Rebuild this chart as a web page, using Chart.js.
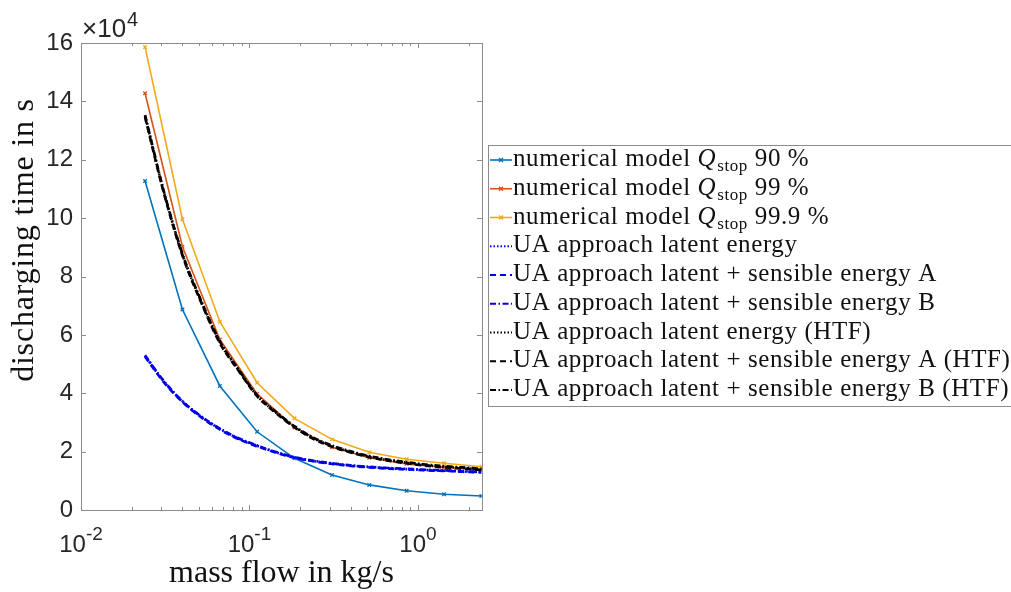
<!DOCTYPE html>
<html>
<head>
<meta charset="utf-8">
<script src="https://cdn.jsdelivr.net/npm/chart.js@4"></script>
<style>
  html, body { margin: 0; padding: 0; background: #fff; }
</style>
</head>
<body>
<canvas id="chart" width="1011" height="592"></canvas>
<script>
// mass flow in kg/s (numerical model runs)
const massFlow = [0.024, 0.04, 0.0667, 0.111, 0.185, 0.309, 0.514, 0.857, 1.43, 2.38];
// discharging time in s
const q90  = [112700, 68700, 42500, 26800, 17700, 12000, 8600, 6600, 5400, 4800];
const q99  = [142800, 90200, 58400, 39800, 28300, 21500, 17900, 15800, 14600, 13700];
const q999 = [158600, 99600, 64500, 43600, 31400, 24200, 19800, 17400, 16000, 14800];

// UA approach, finer mass flow grid
const uaFlow = [0.024, 0.031, 0.04, 0.0516, 0.0667, 0.086, 0.111, 0.143, 0.185, 0.239,
                0.309, 0.399, 0.514, 0.664, 0.857, 1.107, 1.43, 1.84, 2.38];
const uaLatent = [52800, 44000, 37200, 32000, 27800, 24500, 22000, 19800, 18000, 16800,
                  15900, 15200, 14700, 14300, 14000, 13700, 13500, 13200, 13000];
const uaSensA  = [52500, 43800, 37000, 31800, 27600, 24300, 21800, 19700, 17900, 16700,
                  15800, 15100, 14600, 14200, 13900, 13600, 13400, 13100, 12900];
const uaSensB  = [53000, 44200, 37300, 32100, 27900, 24600, 22100, 19900, 18100, 16900,
                  16000, 15300, 14800, 14400, 14100, 13800, 13600, 13300, 13100];
const htfLatent = [135000, 109000, 87500, 71500, 57500, 48000, 39200, 33500, 28500, 24600,
                   21900, 19900, 18300, 17100, 16200, 15400, 14800, 14400, 13900];
const htfSensA  = [134600, 108700, 87200, 71200, 57200, 47800, 39000, 33300, 28300, 24400,
                   21700, 19700, 18100, 16900, 16000, 15200, 14600, 14200, 13700];
const htfSensB  = [135300, 109300, 87800, 71800, 57800, 48200, 39400, 33700, 28700, 24800,
                   22100, 20100, 18500, 17300, 16400, 15600, 15000, 14600, 14100];

const xTickExponents = [-2, -1, 0];
const yTickValues = [0, 20000, 40000, 60000, 80000, 100000, 120000, 140000, 160000];

const legendLabels = [
  "numerical model Q_stop 90 %",
  "numerical model Q_stop 99 %",
  "numerical model Q_stop 99.9 %",
  "UA approach latent energy",
  "UA approach latent + sensible energy A",
  "UA approach latent + sensible energy B",
  "UA approach latent energy (HTF)",
  "UA approach latent + sensible energy A (HTF)",
  "UA approach latent + sensible energy B (HTF)"
];

const SANS = "'Liberation Sans', Arial, sans-serif";
const SERIF = "'Liberation Serif', 'Times New Roman', serif";
const AXIS_GRAY = "#8c8c8c";
const TEXT = "#262626";

function pts(xs, ys) {
  return xs.map((x, i) => ({ x: x, y: ys[i] }));
}

function numSeries(i, ys, color) {
  return {
    label: legendLabels[i], data: pts(massFlow, ys),
    borderColor: color, backgroundColor: color, borderWidth: 1.6,
    pointStyle: 'crossRot', pointRadius: 2.5, pointBorderWidth: 1.3,
    tension: 0, order: 9 - i
  };
}

function uaSeries(i, ys, color, dash) {
  return {
    label: legendLabels[i], data: pts(uaFlow, ys),
    borderColor: color, backgroundColor: color, borderWidth: 2.6,
    borderDash: dash, pointRadius: 0,
    cubicInterpolationMode: 'monotone', order: 9 - i
  };
}

const dotted = [1.5, 2];
const dashed = [6, 4];
const dashDot = [6, 2.5, 1.5, 2.5];

// draws the box, inward ticks, log tick labels, titles and the legend
const framePlugin = {
  id: 'frame',
  afterDraw(chart) {
    const ctx = chart.ctx;
    const a = chart.chartArea;
    const xs = chart.scales.x, ys = chart.scales.y;
    ctx.save();

    // axes box
    ctx.strokeStyle = AXIS_GRAY;
    ctx.lineWidth = 1;
    ctx.strokeRect(Math.round(a.left) + 0.5, Math.round(a.top) + 0.5,
                   Math.round(a.right - a.left), Math.round(a.bottom - a.top));

    // y ticks, inward on both sides
    ctx.beginPath();
    yTickValues.forEach(v => {
      const py = Math.round(ys.getPixelForValue(v)) + 0.5;
      ctx.moveTo(a.left, py); ctx.lineTo(a.left + 5, py);
      ctx.moveTo(a.right, py); ctx.lineTo(a.right - 5, py);
    });
    // x ticks (major + minor) at top and bottom
    xTickExponents.forEach(e => {
      for (let m = 1; m <= 9; m++) {
        const v = m * Math.pow(10, e);
        if (v > xs.max) break;
        const px = Math.round(xs.getPixelForValue(v)) + 0.5;
        const len = m === 1 ? 5 : 3;
        ctx.moveTo(px, a.bottom); ctx.lineTo(px, a.bottom - len);
        ctx.moveTo(px, a.top); ctx.lineTo(px, a.top + len);
      }
    });
    ctx.stroke();

    // x tick labels 10^e
    ctx.fillStyle = TEXT;
    ctx.textBaseline = 'alphabetic';
    ctx.textAlign = 'left';
    xTickExponents.forEach(e => {
      const px = xs.getPixelForValue(Math.pow(10, e));
      ctx.font = "24px " + SANS;
      const w1 = ctx.measureText("10").width;
      ctx.font = "19px " + SANS;
      const sup = String(e);
      const w2 = ctx.measureText(sup).width;
      const x0 = px - (w1 + w2) / 2;
      ctx.font = "24px " + SANS;
      ctx.fillText("10", x0, 552);
      ctx.font = "19px " + SANS;
      ctx.fillText(sup, x0 + w1, 540);
    });

    // multiplier
    ctx.font = "26px " + SANS;
    ctx.fillText("\u00d710", 82, 37);
    const wm = ctx.measureText("\u00d710").width;
    ctx.font = "20px " + SANS;
    ctx.fillText("4", 83 + wm, 26);

    // axis titles
    ctx.fillStyle = "#111";
    ctx.font = "32px " + SERIF;
    ctx.textAlign = 'center';
    ctx.fillText("mass flow in kg/s", (a.left + a.right) / 2, 582);
    ctx.save();
    ctx.translate(33, 240);
    ctx.rotate(-Math.PI / 2);
    ctx.letterSpacing = "0.8px";
    ctx.fillText("discharging time in s", 0, 0);
    ctx.restore();

    drawLegend(ctx, chart.data.datasets);
    ctx.restore();
  }
};

function drawLegend(ctx, datasets) {
  const left = 488, top = 145, height = 261;
  ctx.fillStyle = "#fff";
  ctx.fillRect(left, top, 1011 - left, height);
  ctx.strokeStyle = AXIS_GRAY;
  ctx.lineWidth = 1;
  ctx.strokeRect(left + 0.5, top + 0.5, 600, height);

  datasets.forEach((ds, i) => {
    const cy = 160 + i * 28.75;
    ctx.strokeStyle = ds.borderColor;
    ctx.lineWidth = Math.min(ds.borderWidth, 2);
    ctx.setLineDash(ds.borderDash || []);
    ctx.beginPath();
    ctx.moveTo(490, cy); ctx.lineTo(512, cy);
    ctx.stroke();
    ctx.setLineDash([]);
    if (ds.pointRadius) {
      const r = 2;
      ctx.lineWidth = 1.3;
      ctx.beginPath();
      ctx.moveTo(501 - r, cy - r); ctx.lineTo(501 + r, cy + r);
      ctx.moveTo(501 - r, cy + r); ctx.lineTo(501 + r, cy - r);
      ctx.stroke();
    }
    drawLabel(ctx, ds.label, 513, cy + 6);
  });
}

function drawLabel(ctx, label, x, y) {
  ctx.fillStyle = "#111";
  ctx.textAlign = 'left';
  ctx.textBaseline = 'alphabetic';
  ctx.letterSpacing = "0.6px";
  const normal = "25px " + SERIF;
  if (label.indexOf("Q_stop") < 0) {
    ctx.font = normal;
    ctx.fillText(label, x, y);
    return;
  }
  const parts = label.split("Q_stop");
  ctx.font = normal;
  ctx.fillText(parts[0], x, y);
  x += ctx.measureText(parts[0]).width;
  ctx.font = "italic 25px " + SERIF;
  ctx.fillText("Q", x, y);
  x += ctx.measureText("Q").width + 1;
  ctx.font = "17px " + SERIF;
  ctx.fillText("stop", x, y + 5);
  x += ctx.measureText("stop").width;
  ctx.font = normal;
  ctx.fillText(parts[1], x, y);
}

new Chart(document.getElementById("chart"), {
  type: 'line',
  data: {
    datasets: [
      numSeries(0, q90, '#0072BD'),
      numSeries(1, q99, '#D95319'),
      numSeries(2, q999, '#F5A81A'),
      uaSeries(3, uaLatent, '#0000E6', dotted),
      uaSeries(4, uaSensA, '#0000E6', dashed),
      uaSeries(5, uaSensB, '#0000E6', dashDot),
      uaSeries(6, htfLatent, '#000000', dotted),
      uaSeries(7, htfSensA, '#000000', dashed),
      uaSeries(8, htfSensB, '#000000', dashDot)
    ]
  },
  options: {
    responsive: false,
    animation: false,
    layout: { padding: { top: 43, right: 529, left: 0, bottom: 0 } },
    plugins: { legend: { display: false }, tooltip: { enabled: false } },
    scales: {
      x: {
        type: 'logarithmic', min: 0.01, max: 2.4,
        grid: { display: false, drawTicks: false },
        border: { display: false },
        ticks: { display: false },
        afterFit: s => { s.height = 82; }
      },
      y: {
        min: 0, max: 160000,
        grid: { display: false, drawTicks: false },
        border: { display: false },
        ticks: {
          stepSize: 20000, padding: 8, color: TEXT,
          font: { family: SANS, size: 24 },
          callback: v => v / 10000
        },
        afterFit: s => { s.width = 81; }
      }
    }
  },
  plugins: [framePlugin]
});
</script>
</body>
</html>
